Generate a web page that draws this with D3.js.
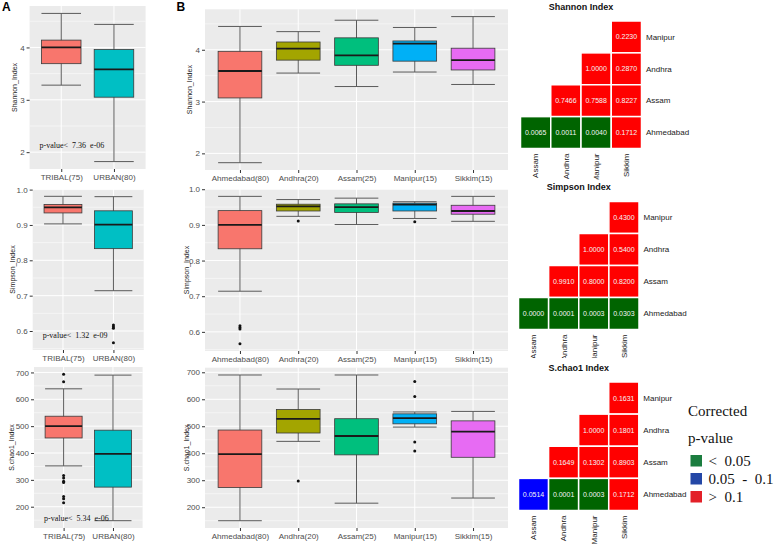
<!DOCTYPE html>
<html><head><meta charset="utf-8">
<script src="https://cdn.jsdelivr.net/npm/d3@7"></script>
<style>body{margin:0;background:#fff} svg{display:block}</style>
</head><body><svg id="c" width="777" height="545"></svg>
<script>
// ---------------- DATA ----------------
const groupsA = ["TRIBAL(75)", "URBAN(80)"];
const groupsB = ["Ahmedabad(80)", "Andhra(20)", "Assam(25)", "Manipur(15)", "Sikkim(15)"];
// box stats: [lower whisker, Q1, median, Q3, upper whisker]
const shannonA = [[3.28, 3.69, 4.00, 4.14, 4.65], [1.82, 3.05, 3.58, 3.96, 4.44]];
const shannonAOut = [[], []];
const simpsonA = [[0.903, 0.934, 0.950, 0.958, 0.981], [0.714, 0.833, 0.901, 0.940, 0.980]];
const simpsonAOut = [[], [0.617, 0.612, 0.608, 0.567]];
const chaoA = [[352, 456, 500, 537, 639], [148, 273, 397, 485, 690]];
const chaoAOut = [[693, 665, 316, 307, 295, 290, 238, 230, 215], []];
const shannonB = [[1.82, 3.07, 3.59, 3.97, 4.45], [3.55, 3.80, 4.02, 4.15, 4.35], [3.29, 3.70, 3.89, 4.23, 4.57], [3.57, 3.78, 4.12, 4.17, 4.43], [3.33, 3.61, 3.80, 4.03, 4.64]];
const shannonBOut = [[], [], [], [], []];
const simpsonB = [[0.714, 0.833, 0.900, 0.940, 0.980], [0.924, 0.939, 0.952, 0.958, 0.971], [0.901, 0.935, 0.950, 0.959, 0.975], [0.918, 0.939, 0.957, 0.961, 0.965], [0.910, 0.930, 0.939, 0.955, 0.980]];
const simpsonBOut = [[0.617, 0.612, 0.608, 0.567], [0.911], [], [0.909], []];
const chaoB = [[150, 273, 397, 486, 690], [444, 475, 527, 562, 638], [215, 394, 464, 528, 690], [497, 509, 530, 546, 553], [234, 385, 480, 520, 555]];
const chaoBOut = [[], [297], [], [666, 610, 442, 408], []];
const shannonTicks = [2, 3, 4];
const simpsonTicks = [0.6, 0.7, 0.8, 0.9, 1.0];
const chaoTicks = [200, 300, 400, 500, 600, 700];
const yTitles = ["Shannon_Index", "Simpson_Index", "S.chao1_Index"];
const pvalueLabels = ["p-value<  7.36  e-06", "p-value<  1.32  e-09", "p-value<  5.34  e-06"];
const pvalueY = [2.13, 0.589, 157];

const hmTitles = ["Shannon Index", "Simpson Index", "S.chao1 Index"];
const hmCols = ["Assam", "Andhra", "Manipur", "Sikkim"];
const hmRows = ["Manipur", "Andhra", "Assam", "Ahmedabad"];
const hmShannon = [[null, null, null, 0.2230], [null, null, 1.0000, 0.2870], [null, 0.7466, 0.7588, 0.8227], [0.0065, 0.0011, 0.0040, 0.1712]];
const hmSimpson = [[null, null, null, 0.4300], [null, null, 1.0000, 0.5400], [null, 0.9910, 0.8000, 0.8200], [0.0000, 0.0001, 0.0003, 0.0303]];
const hmChao = [[null, null, null, 0.1631], [null, null, 1.0000, 0.1801], [null, 0.1649, 0.1302, 0.8903], [0.0514, 0.0001, 0.0003, 0.1712]];
const legendTitle = ["Corrected", "p-value"];
const legendLabels = ["<  0.05", "0.05  -  0.1", ">  0.1"];

// ---------------- STYLE ----------------
const SANS = "'Liberation Sans', Arial, sans-serif";
const SERIF = "'Liberation Serif', 'Times New Roman', serif";
const fillA = ["#F8766D", "#00BFC4"];
const fillB = ["#F8766D", "#A3A500", "#00BF7D", "#00B0F6", "#E76BF3"];
const hmColour = v => v < 0.05 ? "#006400" : (v <= 0.1 ? "#0000FF" : "#FF0000");
const legendColours = ["#1b7d3f", "#2447a6", "#e32028"];

const svg = d3.select("#c");
svg.append("rect").attr("width", 777).attr("height", 545).attr("fill", "#fff");

function boxPanel(rect, groups, fills, stats, outs, ticks, fmt, title, titleX, pval, pvalY) {
  const g = svg.append("g");
  const all = stats.flat().concat(outs.flat());
  const lo = d3.min(all), hi = d3.max(all), pad = (hi - lo) * 0.05;
  const y = d3.scaleLinear().domain([lo - pad, hi + pad]).range([rect.y1, rect.y0]);
  const x = d3.scaleLinear().domain([0.4, groups.length + 0.6]).range([rect.x0, rect.x1]);
  const unit = x(1) - x(0);
  g.append("rect").attr("x", rect.x0).attr("y", rect.y0)
    .attr("width", rect.x1 - rect.x0).attr("height", rect.y1 - rect.y0).attr("fill", "#EBEBEB");
  // minor grid
  const step = ticks[1] - ticks[0];
  const ext = [ticks[0] - step].concat(ticks, [ticks[ticks.length - 1] + step]);
  const minors = d3.pairs(ext).map(([a, b]) => (a + b) / 2).filter(v => v >= y.domain()[0] && v <= y.domain()[1]);
  g.selectAll(".mn").data(minors).join("line")
    .attr("x1", rect.x0).attr("x2", rect.x1).attr("y1", d => y(d)).attr("y2", d => y(d))
    .attr("stroke", "#fff").attr("stroke-width", 0.5);
  g.selectAll(".mj").data(ticks).join("line")
    .attr("x1", rect.x0).attr("x2", rect.x1).attr("y1", d => y(d)).attr("y2", d => y(d))
    .attr("stroke", "#fff").attr("stroke-width", 1);
  g.selectAll(".vg").data(groups).join("line")
    .attr("x1", (d, i) => x(i + 1)).attr("x2", (d, i) => x(i + 1)).attr("y1", rect.y0).attr("y2", rect.y1)
    .attr("stroke", "#fff").attr("stroke-width", 1);
  // axes
  const ya = g.append("g").attr("transform", `translate(${rect.x0},0)`)
    .call(d3.axisLeft(y).tickValues(ticks).tickFormat(d3.format(fmt)).tickSize(3).tickPadding(2));
  const xa = g.append("g").attr("transform", `translate(0,${rect.y1})`)
    .call(d3.axisBottom(x).tickValues(groups.map((d, i) => i + 1)).tickFormat(i => groups[i - 1]).tickSize(3).tickPadding(2));
  [ya, xa].forEach(a => {
    a.select(".domain").remove();
    a.selectAll("line").attr("stroke", "#333");
    a.selectAll("text").attr("fill", "#4D4D4D").style("font-family", SANS).style("font-size", "8px");
  });
  // title
  g.append("text").attr("transform", `translate(${titleX},${(rect.y0 + rect.y1) / 2}) rotate(-90)`)
    .attr("text-anchor", "middle").attr("dy", "0.35em").style("font-family", SANS).style("font-size", "7px")
    .attr("fill", "#222").text(title);
  // boxes
  const bw = 0.75 * unit;
  const bx = g.selectAll(".bx").data(stats).join("g");
  bx.append("line").attr("x1", (d, i) => x(i + 1)).attr("x2", (d, i) => x(i + 1))
    .attr("y1", d => y(d[0])).attr("y2", d => y(d[4])).attr("stroke", "#5a5a5a").attr("stroke-width", 1);
  [0, 4].forEach(k => bx.append("line")
    .attr("x1", (d, i) => x(i + 1) - bw / 2).attr("x2", (d, i) => x(i + 1) + bw / 2)
    .attr("y1", d => y(d[k])).attr("y2", d => y(d[k])).attr("stroke", "#5a5a5a").attr("stroke-width", 1));
  bx.append("rect").attr("x", (d, i) => x(i + 1) - bw / 2).attr("width", bw)
    .attr("y", d => y(d[3])).attr("height", d => y(d[1]) - y(d[3]))
    .attr("fill", (d, i) => fills[i]).attr("stroke", "#3a3a3a").attr("stroke-width", 0.8);
  bx.append("line").attr("x1", (d, i) => x(i + 1) - bw / 2).attr("x2", (d, i) => x(i + 1) + bw / 2)
    .attr("y1", d => y(d[2])).attr("y2", d => y(d[2])).attr("stroke", "#1a1a1a").attr("stroke-width", 1.8);
  outs.forEach((arr, i) => {
    g.selectAll(null).data(arr).join("circle").attr("cx", x(i + 1)).attr("cy", d => y(d))
      .attr("r", 1.5).attr("fill", "#111");
  });
  if (pval) {
    g.append("text").attr("x", rect.x0 + 10).attr("y", y(pvalY)).attr("dy", "0.35em")
      .attr("xml:space", "preserve").style("white-space", "pre")
      .style("font-family", SERIF).style("font-size", "8px").attr("fill", "#111").text(pval);
  }
}

// Panel A
boxPanel({x0: 29.6, x1: 145.6, y0: 6, y1: 169}, groupsA, fillA, shannonA, shannonAOut, shannonTicks, "d", yTitles[0], 15, pvalueLabels[0], pvalueY[0]);
boxPanel({x0: 32.7, x1: 143.7, y0: 189, y1: 350}, groupsA, fillA, simpsonA, simpsonAOut, simpsonTicks, ".1f", yTitles[1], 12.7, pvalueLabels[1], pvalueY[1]);
boxPanel({x0: 34, x1: 142.6, y0: 367, y1: 528}, groupsA, fillA, chaoA, chaoAOut, chaoTicks, "d", yTitles[2], 12, pvalueLabels[2], pvalueY[2]);
// Panel B
boxPanel({x0: 205, x1: 508, y0: 9.3, y1: 170}, groupsB, fillB, shannonB, shannonBOut, shannonTicks, "d", yTitles[0], 190, null);
boxPanel({x0: 205, x1: 508, y0: 189, y1: 351}, groupsB, fillB, simpsonB, simpsonBOut, simpsonTicks, ".1f", yTitles[1], 187, null);
boxPanel({x0: 205, x1: 508, y0: 367.7, y1: 528}, groupsB, fillB, chaoB, chaoBOut, chaoTicks, "d", yTitles[2], 187, null);

svg.append("text").attr("x", 2).attr("y", 11).style("font-family", SANS).style("font-weight", "bold").style("font-size", "12px").text("A");
svg.append("text").attr("x", 176.5).attr("y", 11).style("font-family", SANS).style("font-weight", "bold").style("font-size", "12px").text("B");

// Heatmaps
function heatmap(box, bgTop, values, title, titleY) {
  const g = svg.append("g");
  if (bgTop !== null) g.append("rect").attr("x", 512).attr("y", bgTop).attr("width", 150).attr("height", 190).attr("fill", "#fff");
  const x = d3.scaleBand().domain(hmCols).range([box.x0, box.x1]);
  const y = d3.scaleBand().domain(hmRows).range([box.y0, box.y1]);
  g.append("text").attr("x", (box.x0 + box.x1) / 2).attr("y", titleY).attr("text-anchor", "middle")
    .style("font-family", SANS).style("font-weight", "bold").style("font-size", "9px").attr("fill", "#111").text(title);
  const cells = [];
  values.forEach((row, r) => row.forEach((v, c) => { if (v !== null) cells.push({r: hmRows[r], c: hmCols[c], v}); }));
  g.selectAll(".cell").data(cells).join("rect")
    .attr("x", d => x(d.c)).attr("y", d => y(d.r)).attr("width", x.bandwidth()).attr("height", y.bandwidth())
    .attr("fill", d => hmColour(d.v)).attr("stroke", "#fff").attr("stroke-width", 1.5);
  g.selectAll(".lbl").data(cells).join("text")
    .attr("x", d => x(d.c) + x.bandwidth() / 2).attr("y", d => y(d.r) + y.bandwidth() / 2).attr("dy", "0.35em")
    .attr("text-anchor", "middle").style("font-family", SANS).style("font-size", "7px").attr("fill", "#f4f4f4")
    .text(d => d3.format(".4f")(d.v));
  g.selectAll(".rl").data(hmRows).join("text")
    .attr("x", box.x1 + 4.5).attr("y", d => y(d) + y.bandwidth() / 2).attr("dy", "0.35em")
    .style("font-family", SANS).style("font-size", "8px").attr("fill", "#222").text(d => d);
  g.selectAll(".cl").data(hmCols).join("text")
    .attr("transform", d => `translate(${x(d) + x.bandwidth() / 2},${box.y1 + 5}) rotate(-90)`)
    .attr("text-anchor", "end").attr("dy", "0.35em")
    .style("font-family", SANS).style("font-size", "8px").attr("fill", "#222").text(d => d);
}
heatmap({x0: 520.5, x1: 641.5, y0: 21, y1: 148.5}, null, hmShannon, hmTitles[0], 9.5);
heatmap({x0: 518.5, x1: 639, y0: 201.5, y1: 329.5}, 179.5, hmSimpson, hmTitles[1], 190);
heatmap({x0: 518.5, x1: 638.8, y0: 382, y1: 510.5}, 358, hmChao, hmTitles[2], 371);

// Legend
const lg = svg.append("g");
lg.selectAll(".lt").data(legendTitle).join("text")
  .attr("x", 688).attr("y", (d, i) => 410.7 + i * 27.5).attr("dy", "0.35em")
  .style("font-family", SERIF).style("font-size", "15px").attr("fill", "#111").text(d => d);
lg.selectAll(".lk").data(legendLabels).join("rect")
  .attr("x", 690.5).attr("y", (d, i) => 455 + i * 18).attr("width", 11.5).attr("height", 11.5)
  .attr("fill", (d, i) => legendColours[i]);
lg.selectAll(".ll").data(legendLabels).join("text")
  .attr("x", 708.5).attr("y", (d, i) => 461 + i * 18).attr("dy", "0.35em")
  .attr("xml:space", "preserve").style("white-space", "pre")
  .style("font-family", SERIF).style("font-size", "15px").attr("fill", "#111").text(d => d);
</script></body></html>
